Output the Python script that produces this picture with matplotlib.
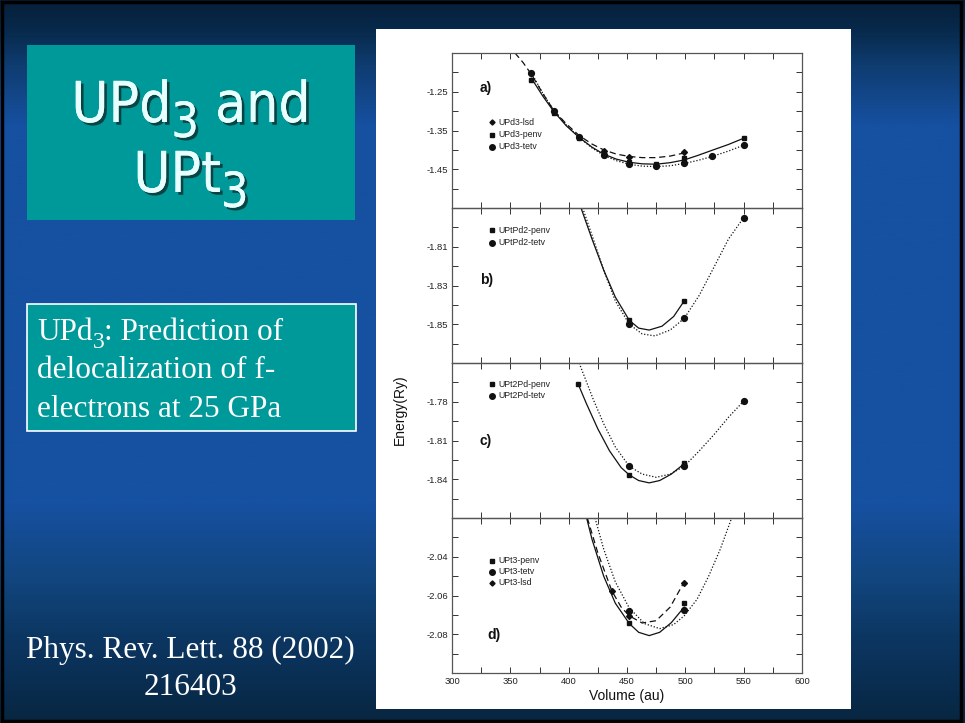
import numpy as np
import matplotlib
matplotlib.use("Agg")
import matplotlib.pyplot as plt
from matplotlib.patches import Rectangle
from matplotlib.colors import LinearSegmentedColormap
import matplotlib.patheffects as pe

# ---------------- data ----------------
# panel a) UPd3
a_lsd_V = [430, 452, 499]
a_lsd_E = [-1.402, -1.418, -1.406]
a_penv_V = [368, 387, 409, 430, 452, 475, 499, 550]
a_penv_E = [-1.220, -1.306, -1.370, -1.413, -1.430, -1.436, -1.422, -1.370]
a_tetv_V = [368, 387, 409, 430, 452, 475, 499, 523, 550]
a_tetv_E = [-1.201, -1.299, -1.368, -1.412, -1.437, -1.442, -1.435, -1.416, -1.388]
a_lsd_fitV = [354, 361, 368, 378, 387, 398, 409, 420, 430, 441, 452, 463, 475, 487, 499]
a_lsd_fitE = [-1.150, -1.175, -1.205, -1.255, -1.297, -1.333, -1.363, -1.385, -1.400,
              -1.411, -1.417, -1.420, -1.420, -1.416, -1.408]
a_penv_fitV = [368, 378, 387, 398, 409, 420, 430, 441, 452, 463, 475, 487, 499, 511, 523, 537, 550]
a_penv_fitE = [-1.215, -1.262, -1.300, -1.338, -1.368, -1.393, -1.411, -1.424, -1.432, -1.436,
               -1.437, -1.433, -1.426, -1.414, -1.401, -1.386, -1.370]
a_tetv_fitV = [368, 378, 387, 398, 409, 420, 430, 441, 452, 463, 475, 487, 499, 511, 523, 537, 550]
a_tetv_fitE = [-1.201, -1.255, -1.297, -1.336, -1.368, -1.395, -1.414, -1.428, -1.437, -1.442,
               -1.443, -1.441, -1.435, -1.427, -1.417, -1.403, -1.388]

# panel b) UPtPd2
b_penv_V = [452, 499]
b_penv_E = [-1.848, -1.838]
b_tetv_V = [452, 499, 550]
b_tetv_E = [-1.850, -1.847, -1.795]
b_penv_fitV = [410.6, 420, 430, 440, 452, 460, 469, 480, 490, 499]
b_penv_fitE = [-1.790, -1.806, -1.822, -1.836, -1.848, -1.852, -1.853, -1.851, -1.846, -1.838]
b_tetv_fitV = [412, 420, 430, 440, 452, 463, 474, 487, 499, 512, 525, 537, 550]
b_tetv_fitE = [-1.790, -1.804, -1.822, -1.838, -1.850, -1.855, -1.856, -1.853, -1.847,
               -1.835, -1.820, -1.806, -1.795]

# panel c) UPt2Pd
c_penv_V = [408, 452, 499]
c_penv_E = [-1.766, -1.8367, -1.8277]
c_tetv_V = [452, 499, 550]
c_tetv_E = [-1.830, -1.830, -1.7795]
c_penv_fitV = [408, 415, 425, 435, 445, 452, 460, 469, 478, 488, 499]
c_penv_fitE = [-1.766, -1.781, -1.801, -1.818, -1.831, -1.8367, -1.841, -1.8428, -1.841, -1.836, -1.828]
c_tetv_fitV = [409, 415, 421, 430, 440, 452, 463, 475, 487, 499, 512, 525, 537, 550]
c_tetv_fitE = [-1.750, -1.764, -1.778, -1.797, -1.815, -1.830, -1.836, -1.8385, -1.836,
               -1.830, -1.818, -1.805, -1.792, -1.7795]

# panel d) UPt3
d_penv_V = [452, 499]
d_penv_E = [-2.0742, -2.0639]
d_tetv_V = [452, 499]
d_tetv_E = [-2.0682, -2.0677]
d_lsd_V = [437, 452, 499]
d_lsd_E = [-2.0576, -2.0704, -2.0533]
d_penv_fitV = [415.4, 420, 430, 440, 452, 460, 469, 478, 488, 499]
d_penv_fitE = [-2.020, -2.031, -2.050, -2.064, -2.0745, -2.0790, -2.0807, -2.079, -2.074, -2.066]
d_lsd_fitV = [416, 425, 437, 445, 452, 463, 475, 487, 499]
d_lsd_fitE = [-2.020, -2.038, -2.0576, -2.066, -2.0705, -2.0742, -2.073, -2.066, -2.053]
d_tetv_fitV = [422.6, 430, 440, 452, 465, 478, 490, 499, 510, 520, 530, 539.7]
d_tetv_fitE = [-2.020, -2.036, -2.053, -2.0665, -2.0745, -2.0771, -2.075, -2.0705,
               -2.062, -2.050, -2.036, -2.020]

x_ticks = [300, 325, 350, 375, 400, 425, 450, 475, 500, 525, 550, 575, 600]
x_labels = ["300", "", "350", "", "400", "", "450", "", "500", "", "550", "", "600"]

a_yticks = [-1.55, -1.50, -1.45, -1.40, -1.35, -1.30, -1.25, -1.20, -1.15]
a_ylabels = ["", "", "-1.45", "", "-1.35", "", "-1.25", "", ""]
b_yticks = [-1.87, -1.86, -1.85, -1.84, -1.83, -1.82, -1.81, -1.80, -1.79]
b_ylabels = ["", "", "-1.85", "", "-1.83", "", "-1.81", "", ""]
c_yticks = [-1.87, -1.855, -1.84, -1.825, -1.81, -1.795, -1.78, -1.765, -1.75]
c_ylabels = ["", "", "-1.84", "", "-1.81", "", "-1.78", "", ""]
d_yticks = [-2.10, -2.09, -2.08, -2.07, -2.06, -2.05, -2.04, -2.03, -2.02]
d_ylabels = ["", "", "-2.08", "", "-2.06", "", "-2.04", "", ""]

# ---------------- figure ----------------
W, H = 965, 723
fig = plt.figure(figsize=(9.65, 7.23), dpi=100)
renderer = fig.canvas.get_renderer()


def pbox(x0, y0, x1, y1):
    return [x0 / W, 1 - y1 / H, (x1 - x0) / W, (y1 - y0) / H]


bg = fig.add_axes([0, 0, 1, 1])
bg.set_axis_off()
bg.set_xlim(0, W)
bg.set_ylim(H, 0)
cmap = LinearSegmentedColormap.from_list(
    "slide",
    [(0.0, "#06203a"), (0.04, "#082a4c"), (0.09, "#0f3d72"), (0.17, "#1650a0"),
     (0.70, "#1650a0"), (0.80, "#12467f"), (0.88, "#0c3763"), (0.96, "#092c4e"),
     (1.0, "#082640")])
grad = np.linspace(0, 1, 400).reshape(-1, 1)
bg.imshow(grad, cmap=cmap, extent=[0, W, H, 0], aspect="auto", zorder=0)
bg.add_patch(Rectangle((1.5, 1.5), W - 6, H - 3.5, fill=False, ec="black", lw=2.5, zorder=1))

# white figure panel
bg.add_patch(Rectangle((376, 29), 475, 680, fc="white", ec="none", zorder=2))


def pieces(parts, x, y, center=False, **kw):
    """draw text pieces [(text, size, dy)] one after another on a common baseline"""
    objs = []
    for txt, size, dy in parts:
        t = bg.text(0, y + dy, txt, fontsize=size, ha="left", va="baseline", zorder=3, **kw)
        objs.append(t)
    widths = [o.get_window_extent(renderer).width for o in objs]
    total = sum(widths)
    cx = x - total / 2 if center else x
    for o, w in zip(objs, widths):
        o.set_x(cx)
        cx += w
    return total


# title box
bg.add_patch(Rectangle((27, 45), 328, 175, fc="#009999", ec="none", zorder=2))
shadow = [pe.withSimplePatchShadow(offset=(2, -2), shadow_rgbFace="#0b3b3b", alpha=0.9), pe.Normal()]
tkw = dict(color="#e8ffff", family="DejaVu Sans", fontstretch="condensed", path_effects=shadow)
# choose size so that "UPd" is about as wide as in the picture
probe = bg.text(0, 0, "UPd", fontsize=42, family="DejaVu Sans", fontstretch="condensed")
wprobe = probe.get_window_extent(renderer).width
probe.remove()
S = min(42, 42 * 100 / wprobe)
pieces([("UPd", S, 0), ("3", S * 0.86, 15), (" and", S, 0)], 191, 122, center=True, **tkw)
pieces([("UPt", S, 0), ("3", S * 0.86, 15)], 191, 192, center=True, **tkw)

# second box
bg.add_patch(Rectangle((27, 304), 329, 127, fc="#009999", ec="white", lw=1.2, zorder=2))
skw = dict(color="white", family="Liberation Serif")
pieces([("UPd", 22.5, 0), ("3", 17, 8), (": Prediction of", 22.5, 0)], 37, 340, **skw)
bg.text(37, 378, "delocalization of f-", fontsize=22.5, ha="left", va="baseline", zorder=3, **skw)
bg.text(37, 417, "electrons at 25 GPa", fontsize=22.5, ha="left", va="baseline", zorder=3, **skw)

for txt, yb in [("Phys. Rev. Lett. 88 (2002)", 658), ("216403", 695)]:
    bg.text(190.5, yb, txt, fontsize=22.5, ha="center", va="baseline", zorder=3, **skw)

# ---------------- panels ----------------
tops = [53, 208, 363, 518, 673]
xl, xr = 452, 802
ink = "#111111"
lw = 0.9

panels = [
    dict(lim=(-1.55, -1.15), yt=a_yticks, yl=a_ylabels, lab="a)", labpos=(0.08, 0.775),
         fits=[(a_lsd_fitV, a_lsd_fitE, (0, (5, 3))), (a_penv_fitV, a_penv_fitE, "-"),
               (a_tetv_fitV, a_tetv_fitE, (0, (1, 1.5)))],
         pts=[(a_lsd_V, a_lsd_E, "D", 3.0), (a_penv_V, a_penv_E, "s", 3.2),
              (a_tetv_V, a_tetv_E, "o", 4.2)],
         leg=[("D", 2.6, "UPd3-lsd"), ("s", 3.0, "UPd3-penv"), ("o", 4.0, "UPd3-tetv")],
         legy=[0.553, 0.472, 0.396]),
    dict(lim=(-1.87, -1.79), yt=b_yticks, yl=b_ylabels, lab="b)", labpos=(0.08, 0.535),
         fits=[(b_penv_fitV, b_penv_fitE, "-"), (b_tetv_fitV, b_tetv_fitE, (0, (1, 1.5)))],
         pts=[(b_penv_V, b_penv_E, "s", 3.2), (b_tetv_V, b_tetv_E, "o", 4.2)],
         leg=[("s", 3.0, "UPtPd2-penv"), ("o", 4.0, "UPtPd2-tetv")],
         legy=[0.858, 0.776]),
    dict(lim=(-1.87, -1.75), yt=c_yticks, yl=c_ylabels, lab="c)", labpos=(0.08, 0.50),
         fits=[(c_penv_fitV, c_penv_fitE, "-"), (c_tetv_fitV, c_tetv_fitE, (0, (1, 1.5)))],
         pts=[(c_penv_V, c_penv_E, "s", 3.2), (c_tetv_V, c_tetv_E, "o", 4.2)],
         leg=[("s", 3.0, "UPt2Pd-penv"), ("o", 4.0, "UPt2Pd-tetv")],
         legy=[0.862, 0.789]),
    dict(lim=(-2.10, -2.02), yt=d_yticks, yl=d_ylabels, lab="d)", labpos=(0.10, 0.245),
         fits=[(d_penv_fitV, d_penv_fitE, "-"), (d_lsd_fitV, d_lsd_fitE, (0, (5, 3))),
               (d_tetv_fitV, d_tetv_fitE, (0, (1, 1.5)))],
         pts=[(d_penv_V, d_penv_E, "s", 3.2), (d_tetv_V, d_tetv_E, "o", 4.2),
              (d_lsd_V, d_lsd_E, "D", 3.0)],
         leg=[("s", 3.0, "UPt3-penv"), ("o", 4.0, "UPt3-tetv"), ("D", 2.6, "UPt3-lsd")],
         legy=[0.723, 0.652, 0.583]),
]

for i, p in enumerate(panels):
    ax = fig.add_axes(pbox(xl, tops[i], xr, tops[i + 1]))
    ax.set_facecolor("none")
    ax.set_xlim(300, 600)
    ax.set_ylim(*p["lim"])
    for fv, fe, ls in p["fits"]:
        ax.plot(fv, fe, color=ink, lw=lw, ls=ls, clip_on=True)
    for v, e, m, ms in p["pts"]:
        ax.plot(v, e, ls="none", marker=m, ms=ms, color=ink, mec=ink)
    for (m, ms, t), yy in zip(p["leg"], p["legy"]):
        ax.plot([0.114], [yy], transform=ax.transAxes, marker=m, ms=ms, color=ink, ls="none")
        ax.text(0.133, yy, t, transform=ax.transAxes, fontsize=6.3, family="Liberation Sans",
                va="center", ha="left", color="#222222")
    ax.text(*p["labpos"], p["lab"], transform=ax.transAxes, fontsize=10, fontweight="bold",
            family="Liberation Sans", va="center", ha="left", color=ink)
    ax.set_yticks(p["yt"])
    ax.set_yticklabels(p["yl"])
    ax.set_xticks(x_ticks)
    if i == 3:
        ax.set_xticklabels(x_labels)
    else:
        ax.set_xticklabels([])
    ax.tick_params(direction="in", top=True, right=True, length=4, width=0.7,
                   color="#333333", labelsize=6.8, labelcolor="#222222", pad=3)
    for lab in ax.get_xticklabels() + ax.get_yticklabels():
        lab.set_family("Liberation Sans")
    for s in ax.spines.values():
        s.set_color("#555555")
        s.set_linewidth(0.9)

bg.text(400, 410, "Energy(Ry)", rotation=90, fontsize=10, family="Liberation Sans",
        ha="center", va="center", color="#111111", zorder=3)
bg.text(627, 696, "Volume (au)", fontsize=10, family="Liberation Sans",
        ha="center", va="center", color="#111111", zorder=3)

fig.savefig("out.png", dpi=100)
